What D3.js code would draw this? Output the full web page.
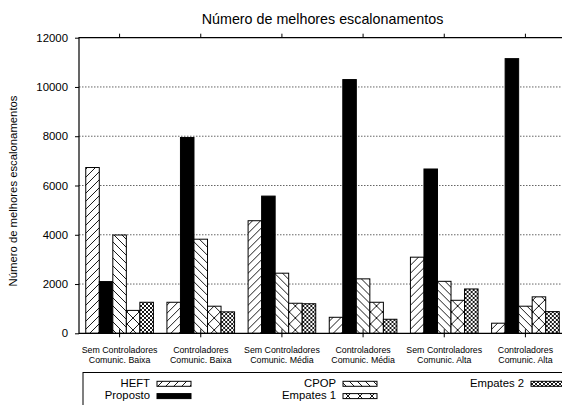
<!DOCTYPE html>
<html>
<head>
<meta charset="utf-8">
<script src="https://cdn.jsdelivr.net/npm/d3@7"></script>
<style>
  html, body { margin: 0; padding: 0; background: #fff; }
  svg { display: block; font-family: "Liberation Sans", Arial, Helvetica, sans-serif; }
</style>
</head>
<body>
<svg id="chart" width="562" height="405"></svg>
<script>
// Categories (two-line labels)
const categories = [
  ["Sem Controladores", "Comunic. Baixa"],
  ["Controladores", "Comunic. Baixa"],
  ["Sem Controladores", "Comunic. Média"],
  ["Controladores", "Comunic. Média"],
  ["Sem Controladores", "Comunic. Alta"],
  ["Controladores", "Comunic. Alta"]
];
const seriesNames = ["HEFT", "Proposto", "CPOP", "Empates 1", "Empates 2"];

// Series values per category
const heft     = [6730, 1260, 4570, 650, 3090, 410];
const proposto = [2100, 7950, 5570, 10300, 6670, 11150];
const cpop     = [3990, 3820, 2440, 2210, 2110, 1100];
const empates1 = [930, 1100, 1220, 1260, 1340, 1480];
const empates2 = [1260, 870, 1200, 570, 1800, 880];

const yTicks = [0, 2000, 4000, 6000, 8000, 10000, 12000];
const titleText = "Número de melhores escalonamentos";
const yLabelText = "Número de melhores escalonamentos";

const seriesValues = [heft, proposto, cpop, empates1, empates2];
const fills = ["url(#p-slash)", "#000", "url(#p-back)", "url(#p-cross)", "url(#p-fine)"];

const svg = d3.select("#chart");
const plotL = 79, plotR = 566, plotT = 37.7, plotB = 333.3;

const catKeys = categories.map((c, i) => i);
const x = d3.scaleBand().domain(catKeys).range([plotL, plotR]).padding(0);
const bw = x.bandwidth();
const xs = d3.scaleBand().domain(seriesNames).range([bw / 12, bw * 11 / 12]).padding(0);
const y = d3.scaleLinear().domain([0, 12000]).range([plotB, plotT]);

// Fill patterns
const defs = svg.append("defs");
function pattern(id, size, d) {
  const p = defs.append("pattern").attr("id", id)
    .attr("patternUnits", "userSpaceOnUse")
    .attr("width", size).attr("height", size);
  p.append("rect").attr("width", size).attr("height", size).attr("fill", "#fff");
  p.append("path").attr("d", d).attr("stroke", "#000").attr("stroke-width", 0.9).attr("fill", "none");
}
const s1 = 8;
pattern("p-slash", s1, `M0,${s1}L${s1},0M-2,2L2,-2M${s1-2},${s1+2}L${s1+2},${s1-2}`);
pattern("p-back", s1, `M0,0L${s1},${s1}M-2,${s1-2}L2,${s1+2}M${s1-2},-2L${s1+2},2`);
const s2 = 12;
pattern("p-cross", s2, `M0,0L${s2},${s2}M0,${s2}L${s2},0`);
const s3 = 4;
pattern("p-fine", s3, `M0,0L${s3},${s3}M0,${s3}L${s3},0`);

// Grid lines
svg.append("g").selectAll("line")
  .data(yTicks.filter(t => t > 0 && t < 12000))
  .join("line")
  .attr("x1", plotL).attr("x2", plotR)
  .attr("y1", d => y(d)).attr("y2", d => y(d))
  .attr("stroke", "#666").attr("stroke-width", 1)
  .attr("stroke-dasharray", "1.5,1.5");

// Bars
const groups = svg.append("g").selectAll("g")
  .data(catKeys)
  .join("g")
  .attr("transform", d => `translate(${x(d)},0)`);
groups.selectAll("rect")
  .data(ci => seriesNames.map((s, si) => ({ s, si, v: seriesValues[si][ci] })))
  .join("rect")
  .attr("x", d => xs(d.s))
  .attr("width", xs.bandwidth())
  .attr("y", d => y(d.v))
  .attr("height", d => y(0) - y(d.v))
  .attr("fill", d => fills[d.si])
  .attr("stroke", "#000")
  .attr("stroke-width", 1);

// Y axis
const yAxis = d3.axisLeft(y).tickValues(yTicks).tickFormat(d3.format("d"))
  .tickSizeInner(4).tickSizeOuter(0).tickPadding(7);
const gy = svg.append("g").attr("transform", `translate(${plotL},0)`).call(yAxis);
gy.select(".domain").remove();
gy.selectAll("line").attr("stroke", "#000");
gy.selectAll("text").attr("font-size", "11.4px").attr("fill", "#000")
  .attr("font-family", "Liberation Sans, Arial, sans-serif");

// Bottom axis ticks and labels
const xAxis = d3.axisBottom(x).tickSizeInner(4).tickSizeOuter(0).tickFormat(() => "");
const gx = svg.append("g").attr("transform", `translate(0,${plotB})`).call(xAxis);
gx.select(".domain").remove();
gx.selectAll("line").attr("stroke", "#000").attr("y1", -4);
const lbl = svg.append("g").selectAll("text")
  .data(catKeys)
  .join("text")
  .attr("text-anchor", "middle")
  .attr("font-size", "8.8px")
  .attr("fill", "#000")
  .attr("transform", d => `translate(${x(d) + bw / 2},0)`);
lbl.append("tspan").attr("x", 0).attr("y", 352.5).text(d => categories[d][0]);
lbl.append("tspan").attr("x", 0).attr("y", 363).text(d => categories[d][1]);

// Top axis ticks
const xTop = d3.axisTop(x).tickSizeInner(4).tickSizeOuter(0).tickFormat(() => "");
const gt = svg.append("g").attr("transform", `translate(0,${plotT})`).call(xTop);
gt.select(".domain").remove();
gt.selectAll("line").attr("stroke", "#000");

// Frame
svg.append("path")
  .attr("d", `M${plotR},${plotT}H${plotL}V${plotB}H${plotR}`)
  .attr("fill", "none").attr("stroke", "#000").attr("stroke-width", 1.2);

// Title
svg.append("text").attr("x", (plotL + plotR) / 2).attr("y", 24)
  .attr("text-anchor", "middle").attr("font-size", "14.3px").attr("fill", "#000")
  .text(titleText);

// Y label
svg.append("text")
  .attr("transform", `translate(17,${(95 + 287) / 2}) rotate(-90)`)
  .attr("text-anchor", "middle").attr("font-size", "11.3px").attr("fill", "#000")
  .text(yLabelText);

// Legend
const lg = svg.append("g");
lg.append("rect").attr("x", 83).attr("y", 372.5).attr("width", 520).attr("height", 60)
  .attr("fill", "#fff").attr("stroke", "#000").attr("stroke-width", 1);
const colText = [150, 336, 524];
const items = lg.selectAll("g.item")
  .data(seriesNames.map((s, i) => ({ s, i, col: Math.floor(i / 2), row: i % 2 })))
  .join("g").attr("class", "item");
items.append("text")
  .attr("x", d => colText[d.col])
  .attr("y", d => 387 + d.row * 12.3)
  .attr("text-anchor", "end").attr("font-size", "11.3px").attr("fill", "#000")
  .text(d => d.s);
items.append("rect")
  .attr("x", d => colText[d.col] + 7)
  .attr("y", d => 381.3 + d.row * 12.3)
  .attr("width", 34).attr("height", 5)
  .attr("fill", d => fills[d.i]).attr("stroke", "#000").attr("stroke-width", 1);
</script>
</body>
</html>
